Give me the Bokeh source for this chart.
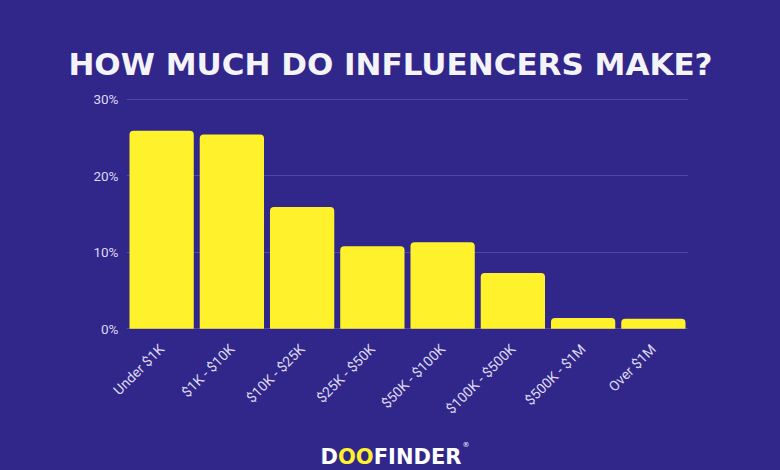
import math
from bokeh.plotting import figure
from bokeh.layouts import column
from bokeh.models import FactorRange, Range1d, PrintfTickFormatter, ColumnDataSource, FixedTicker
from bokeh.core.properties import value
from bokeh.embed import file_html
from bokeh.resources import INLINE

categories = ["Under $1K", "$1K - $10K", "$10K - $25K", "$25K - $50K",
              "$50K - $100K", "$100K - $500K", "$500K - $1M", "Over $1M"]
shares = [25.9, 25.4, 15.9, 10.8, 11.3, 7.3, 1.4, 1.3]
y_ticks = [0, 10, 20, 30]
title_text = "HOW MUCH DO INFLUENCERS MAKE?"
logo_parts = ["D", "OO", "FINDER"]

BG = "#31268a"
YELLOW = "#fff22c"
LABEL = "#dcd9f0"
GRID = "#5149a3"
W = 780


def canvas(top, bottom):
    """A blank figure whose data coordinates equal page pixels."""
    f = figure(width=W, height=bottom - top,
               x_range=Range1d(0, W), y_range=Range1d(bottom, top),
               output_backend="svg", toolbar_location=None, title=None,
               min_border=0, background_fill_color=BG, border_fill_color=BG,
               outline_line_color=None, frame_align=False)
    f.axis.visible = False
    f.grid.visible = False
    return f


# ---- title strip ----
top = canvas(0, 88)
top.text(x=[390], y=[63.3], text=[title_text], text_align="center",
         text_baseline="alphabetic", text_font=value("DejaVu Sans"),
         text_font_style="bold", text_font_size="31px", text_color="#f4f3f8")

# ---- main chart ----
src = ColumnDataSource(dict(cat=categories, share=shares))
p = figure(width=W, height=341,
           x_range=FactorRange(factors=categories, range_padding=0),
           y_range=Range1d(-0.1, 30.1),
           output_backend="svg", toolbar_location=None, title=None,
           min_border_left=126, min_border_right=92,
           min_border_top=10, min_border_bottom=100,
           background_fill_color=BG, border_fill_color=BG,
           outline_line_color=None, frame_align=False)

p.vbar(x="cat", top="share", bottom=0, width=0.915, source=src,
       fill_color=YELLOW, line_color=None, border_radius=(4, 4, 0, 0))

p.xgrid.grid_line_color = None
p.ygrid.ticker = FixedTicker(ticks=y_ticks)
p.ygrid.grid_line_color = GRID
p.ygrid.grid_line_width = 1
p.ygrid.level = "underlay"

for ax in (p.xaxis[0], p.yaxis[0]):
    ax.axis_line_color = None
    ax.major_tick_line_color = None
    ax.minor_tick_line_color = None
    ax.major_tick_out = 0
    ax.major_tick_in = 0
    ax.major_label_text_color = LABEL
    ax.major_label_text_font = "Roboto"

p.yaxis[0].major_label_text_font_size = "13.5px"
p.yaxis[0].ticker = FixedTicker(ticks=y_ticks)
p.yaxis[0].formatter = PrintfTickFormatter(format="%d%%")
p.yaxis[0].major_label_standoff = 8
p.xaxis[0].major_label_text_font_size = "14px"
p.xaxis[0].major_label_orientation = math.pi / 4
p.xaxis[0].major_label_standoff = 17

# ---- logo strip ----
bottom = canvas(429, 470)
fs = 21
x0 = 320
offsets = [0, 0.833 * fs, (0.833 + 1.702) * fs]
colors = ["white", YELLOW, "white"]
bottom.text(x=[x0 + o for o in offsets], y=[456.5] * 3, text=logo_parts,
            text_color=colors, text_align="left", text_baseline="alphabetic",
            text_font=value("DejaVu Sans"), text_font_style="bold",
            text_font_size=f"{fs}px")
bottom.text(x=[x0 + 6.661 * fs + 2], y=[444], text=["®"], text_color="white",
            text_align="left", text_baseline="alphabetic",
            text_font=value("DejaVu Sans"), text_font_size="7px")

layout = column(top, p, bottom, spacing=0)

template = """{% block preamble %}<style>html, body { background: #31268a; }</style>{% endblock %}"""
open("out.html", "w").write(file_html(layout, INLINE, template=template))
